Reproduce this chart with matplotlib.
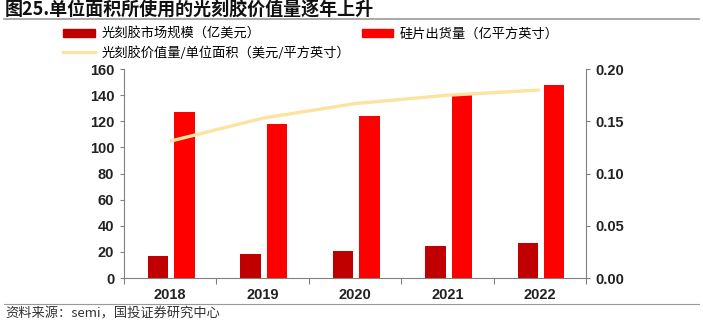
import matplotlib.pyplot as plt
import numpy as np
from matplotlib.lines import Line2D
from matplotlib.patches import Patch

plt.rcParams['font.family'] = ['Liberation Sans', 'Noto Sans CJK SC']

years = ['2018', '2019', '2020', '2021', '2022']
resist_market = [16.8, 18.4, 20.7, 24.5, 26.8]      # 亿美元
wafer_area = [127, 118, 124, 141, 147.5]            # 亿平方英寸
value_per_area = [0.131, 0.153, 0.167, 0.175, 0.180]  # 美元/平方英寸

cjk = ['Noto Sans CJK SC', 'DejaVu Sans']
grey = '#808080'

fig = plt.figure(figsize=(7.03, 3.23), dpi=100)
ax = fig.add_axes([0.1764, 0.1393, 0.6572, 0.6467])
ax2 = ax.twinx()

x = np.arange(len(years))
w = 0.22
ax.bar(x - 0.13, resist_market, w, color='#C00000', zorder=2)
ax.bar(x + 0.155, wafer_area, w, color='#FF0000', zorder=2)
ax2.plot(x, value_per_area, color='#FDE3A0', lw=2.4, solid_capstyle='butt', zorder=3)

ax.set_xlim(-0.5, 4.5)
ax.set_ylim(0, 160)
ax.set_yticks(range(0, 161, 20))
ax2.set_ylim(0, 0.2)
ax2.set_yticks([0, 0.05, 0.10, 0.15, 0.20])
ax2.set_yticklabels(['0.00', '0.05', '0.10', '0.15', '0.20'])

# x 轴刻度线放在类别之间，标签放在类别中心
ax.set_xticks(np.arange(-0.5, 5, 1))
ax.set_xticklabels([])
ax.set_xticks(x, minor=True)
ax.set_xticklabels(years, minor=True)
ax.tick_params(axis='x', which='minor', length=0, pad=7, labelsize=10.5)
ax.tick_params(axis='x', which='major', length=4, color=grey)

for a in (ax, ax2):
    a.spines['top'].set_visible(False)
    for s in ('left', 'right', 'bottom'):
        a.spines[s].set_color(grey)
    a.tick_params(axis='y', length=3, color=grey, labelsize=10.5, pad=4)
    for lab in a.get_yticklabels():
        lab.set_fontweight('bold')
        lab.set_color('#222222')
for lab in ax.get_xticklabels(minor=True):
    lab.set_fontweight('bold')
    lab.set_color('#222222')
ax.spines['right'].set_visible(False)
ax2.spines['left'].set_visible(False)
ax2.spines['bottom'].set_visible(False)

handles = [Patch(color='#C00000'),
           Line2D([], [], color='#FDE3A0', lw=2.4),
           Patch(color='#FF0000')]
labels = ['光刻胶市场规模（亿美元）',
          '光刻胶价值量/单位面积（美元/平方英寸）',
          '硅片出货量（亿平方英寸）']
fig.legend(handles, labels, loc='upper left', bbox_to_anchor=(0.08, 0.935),
           ncol=2, frameon=False, prop={'family': cjk, 'size': 9.5},
           handlelength=2.4, handleheight=0.55, handletextpad=0.5,
           columnspacing=0.9, labelspacing=0.4, borderpad=0)

fig.text(0.006, 0.968, '图25.单位面积所使用的光刻胶价值量逐年上升', family=cjk,
         fontsize=13, fontweight='bold', va='center', ha='left', color='#111111')
fig.add_artist(Line2D([0.006, 0.995], [0.94, 0.94], color='#999999', lw=1.2))
fig.add_artist(Line2D([0.006, 0.995], [0.059, 0.059], color='#999999', lw=0.8))
fig.text(0.008, 0.027, '资料来源：semi，国投证券研究中心', family=cjk,
         fontsize=9.5, style='italic', va='center', ha='left', color='#333333')

fig.savefig('out.png', dpi=100)
